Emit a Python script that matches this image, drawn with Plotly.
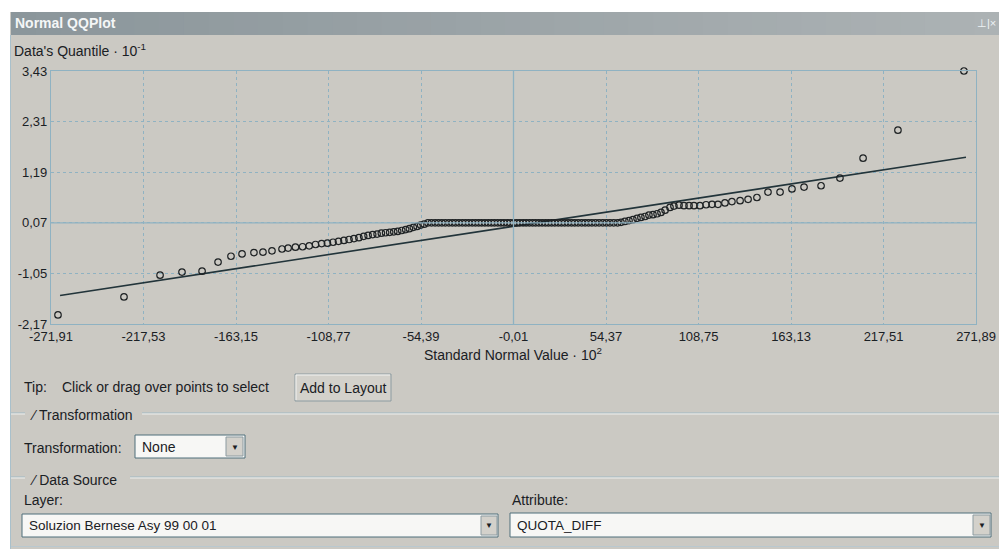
import plotly.graph_objects as go

# ---------------- data ----------------
x_ticks = [-271.91, -217.53, -163.15, -108.77, -54.39, -0.01, 54.37, 108.75, 163.13, 217.51, 271.89]
x_tick_labels = ["-271,91", "-217,53", "-163,15", "-108,77", "-54,39", "-0,01",
                 "54,37", "108,75", "163,13", "217,51", "271,89"]
y_ticks = [-2.17, -1.05, 0.07, 1.19, 2.31, 3.43]
y_tick_labels = ["-2,17", "-1,05", "0,07", "1,19", "2,31", "3,43"]

# standard normal value (x 10^2) of each sorted data point
qq_x = [
    -267.8, -229.0, -207.8, -194.9, -183.1, -173.7, -166.1, -159.6, -152.6, -147.3, -142.0, -136.1,
    -132.5, -128.2, -124.0, -120.1, -116.4, -112.8, -109.4, -106.1, -102.9, -99.7, -96.7, -93.8,
    -90.9, -88.1, -85.5, -82.8, -80.2, -77.7, -75.2, -72.8, -70.4, -68.1, -65.7, -63.4, -61.2,
    -58.9, -56.7, -54.6, -52.5,
    -50.3, -48.2, -46.1, -44.1, -42.1, -40.1, -38.0, -36.0, -34.1, -32.1, -30.1, -28.2, -26.3,
    -24.3, -22.4, -20.5, -18.7, -16.8, -14.9, -13.0, -11.2, -9.3, -7.4, -5.6, -3.7, -1.9, 0.0,
    1.9, 3.7, 5.6, 7.4, 9.3, 11.2, 13.0, 14.9, 16.8, 18.7, 20.5, 22.4, 24.3, 26.3, 28.2, 30.1,
    32.1, 34.1, 36.0, 38.0, 40.1, 42.1, 44.1, 46.1, 48.2, 50.3, 52.5, 54.6, 56.7, 58.9, 61.2,
    63.2, 65.5, 67.9, 70.2, 72.6, 74.9, 77.3, 79.6, 82.0, 84.4, 86.7, 89.1, 92.0, 94.3, 97.3,
    100.2, 103.2, 106.1, 109.6, 113.2, 116.7, 120.2, 124.3, 128.4, 133.2, 137.9, 143.1,
    149.6, 156.7, 163.7, 170.8, 180.8, 191.9, 205.5, 226.0, 264.8,
]
# data quantile (x 10^-1)
qq_y = [
    -1.97, -1.57, -1.09, -1.02, -1.00, -0.80, -0.67, -0.62, -0.59, -0.58, -0.55, -0.51,
    -0.49, -0.47, -0.46, -0.44, -0.41, -0.39, -0.38, -0.36, -0.34, -0.32, -0.30, -0.28,
    -0.26, -0.23, -0.21, -0.19, -0.18, -0.16, -0.15, -0.14, -0.13, -0.12, -0.10, -0.08, -0.06,
    -0.03, -0.01, 0.02, 0.04,
    0.07, 0.07, 0.07, 0.07, 0.07, 0.07, 0.07, 0.07, 0.07, 0.07, 0.07, 0.07, 0.07,
    0.07, 0.07, 0.07, 0.07, 0.07, 0.07, 0.07, 0.07, 0.07, 0.07, 0.07, 0.07, 0.07, 0.07,
    0.07, 0.07, 0.07, 0.07, 0.07, 0.07, 0.07, 0.07, 0.07, 0.07, 0.07, 0.07, 0.07, 0.07, 0.07, 0.07,
    0.07, 0.07, 0.07, 0.07, 0.07, 0.07, 0.07, 0.07, 0.07, 0.07, 0.07, 0.07, 0.07, 0.07, 0.07,
    0.08, 0.10, 0.12, 0.14, 0.17, 0.19, 0.21, 0.24, 0.25, 0.27, 0.30, 0.35, 0.41, 0.44, 0.46,
    0.45, 0.45, 0.45, 0.45, 0.47, 0.48, 0.48, 0.51, 0.54, 0.56, 0.59, 0.63,
    0.75, 0.75, 0.82, 0.86, 0.89, 1.06, 1.50, 2.12, 3.43,
]
# reference (fitted) line end points
line_x = [-266.6, 266.0]
line_y = [-1.54, 1.52]

# ---------------- styling ----------------
PAGE_W, PAGE_H = 999, 549
OFF = 0
W, H = PAGE_W - OFF, PAGE_H - OFF
BG = "#cbc9c3"
GRID = "#8fb2c2"
TXT = "#1a2024"
FONT = "Arial, Liberation Sans, sans-serif"


def fx(p):
    return (p - OFF) / W


def fy(p):
    return 1 - (p - OFF) / H


shapes = []
annotations = []


def rect(x0, y0, x1, y1, fill, line=None, lw=1, layer="above"):
    shapes.append(dict(type="rect", xref="paper", yref="paper",
                       x0=fx(x0), x1=fx(x1), y0=fy(y1), y1=fy(y0),
                       fillcolor=fill, layer=layer,
                       line=dict(color=line or fill, width=lw if line else 0)))


def hline(x0, x1, y, color, lw=1):
    shapes.append(dict(type="line", xref="paper", yref="paper",
                       x0=fx(x0), x1=fx(x1), y0=fy(y), y1=fy(y),
                       line=dict(color=color, width=lw), layer="above"))


def vline(x, y0, y1, color, lw=1):
    shapes.append(dict(type="line", xref="paper", yref="paper",
                       x0=fx(x), x1=fx(x), y0=fy(y0), y1=fy(y1),
                       line=dict(color=color, width=lw), layer="above"))


def text(x, y, s, size=14, color=TXT, anchor="left", bold=False):
    annotations.append(dict(xref="paper", yref="paper", x=fx(x), y=fy(y),
                            text=f"<b>{s}</b>" if bold else s, showarrow=False,
                            xanchor=anchor, yanchor="middle",
                            font=dict(family=FONT, size=size, color=color)))


# outer white strips
rect(OFF, OFF, PAGE_W, 12, "#ffffff")
rect(OFF, OFF, 10, PAGE_H, "#ffffff")
# title bar with gradient
steps = 40
c0 = (139, 150, 155)
c1 = (172, 178, 180)
for i in range(steps):
    t = i / (steps - 1)
    col = "rgb(%d,%d,%d)" % tuple(round(a + (b - a) * t) for a, b in zip(c0, c1))
    xa = 11 + (PAGE_W - 11) * i / steps
    xb = 11 + (PAGE_W - 11) * (i + 1) / steps + 1
    rect(xa, 12, xb, 35, col)
text(13, 23.5, "Normal QQPlot", size=14, color="#f4f6f7", bold=True)
text(998, 23.5, "⊥|×", size=11, color="#eef2f4", anchor="right")
vline(10.5, 35, PAGE_H, "#a9c0cb")

# axis captions
text(12, 50, "Data's Quantile · 10<sup>-1</sup>")
text(513, 354, "Standard Normal Value · 10<sup>2</sup>", anchor="center")

# tip row
text(22, 387, "Tip:")
text(60, 387, "Click or drag over points to select")
rect(295, 374, 391, 401, "#d3d1cb", line="#8c9ba1")
hline(296, 390, 375, "#f4f4f2")
vline(296, 375, 400, "#f4f4f2")
text(343, 388, "Add to Layout", anchor="center")

# Transformation group
hline(11, 25, 413, "#9fb9c5")
hline(11, 25, 414, "#f0f0ee")
text(28, 415, "⁄ Transformation")
hline(142, PAGE_W, 413, "#9fb9c5")
hline(142, PAGE_W, 414, "#f0f0ee")
text(22, 448, "Transformation:")
rect(135, 435, 245, 458, "#f7f7f5", line="#4f6f7a")
text(140, 447, "None")
rect(226, 437, 243, 456, "#d3d1cb", line="#8c9ba1")
text(234.5, 447, "▼", size=8, anchor="center")

# Data source group
hline(11, 25, 477, "#9fb9c5")
hline(11, 25, 478, "#f0f0ee")
text(28, 480, "⁄ Data Source")
hline(130, PAGE_W, 477, "#9fb9c5")
hline(130, PAGE_W, 478, "#f0f0ee")
text(22, 500, "Layer:")
text(510, 500, "Attribute:")
rect(22, 514, 498, 537, "#f7f7f5", line="#4f6f7a")
text(27, 525.5, "Soluzion Bernese Asy 99 00 01", size=13.5)
rect(481, 516, 497, 535, "#d3d1cb", line="#8c9ba1")
text(489, 525.5, "▼", size=8, anchor="center")
rect(510, 513, 991, 537, "#f7f7f5", line="#4f6f7a")
text(515, 525, "QUOTA_DIFF", size=13.5)
rect(973, 515, 990, 535, "#d3d1cb", line="#8c9ba1")
text(981.5, 525, "▼", size=8, anchor="center")
hline(11, PAGE_W, 546.5, "#b9c8cf")

# plot area in page pixels
PL, PR, PT, PB = 51, 976, 71, 324

# solid centre cross lines of the plot
shapes.append(dict(type="line", xref="x", yref="paper", x0=x_ticks[5], x1=x_ticks[5],
                   y0=fy(PB), y1=fy(PT), line=dict(color=GRID, width=1.3), layer="above"))
shapes.append(dict(type="line", xref="paper", yref="y", x0=fx(PL), x1=fx(PR), y0=y_ticks[2],
                   y1=y_ticks[2], line=dict(color=GRID, width=1.3), layer="above"))

fig = go.Figure()
fig.add_trace(go.Scatter(x=line_x, y=line_y, mode="lines",
                         line=dict(color="#22343a", width=1.6), hoverinfo="skip"))
fig.add_trace(go.Scatter(x=qq_x, y=qq_y, mode="markers", cliponaxis=False,
                         marker=dict(symbol="circle-open", size=6.5, color="#1e2224",
                                     line=dict(width=1.2))))

axis_common = dict(showgrid=True, gridcolor=GRID, griddash="dot", gridwidth=1,
                   showline=True, linecolor=GRID, linewidth=1.2, mirror=True,
                   ticks="", zeroline=False, fixedrange=True, automargin=False,
                   tickfont=dict(family=FONT, size=13, color=TXT))
fig.update_layout(
    width=W, height=H, autosize=False,
    margin=dict(l=0, r=0, t=0, b=0, pad=0, autoexpand=False),
    paper_bgcolor=BG, plot_bgcolor=BG,
    showlegend=False,
    xaxis=dict(domain=[fx(PL), fx(PR)], range=[x_ticks[0], x_ticks[-1]],
               tickmode="array", tickvals=x_ticks, ticktext=x_tick_labels, **axis_common),
    yaxis=dict(domain=[fy(PB), fy(PT)], range=[y_ticks[0], y_ticks[-1]],
               tickmode="array", tickvals=y_ticks, ticktext=y_tick_labels, **axis_common),
    shapes=shapes, annotations=annotations,
)

fig.write_html("out.html", config={"displayModeBar": False},
               post_script="document.body.style.margin='0';document.body.style.overflow='hidden';")
